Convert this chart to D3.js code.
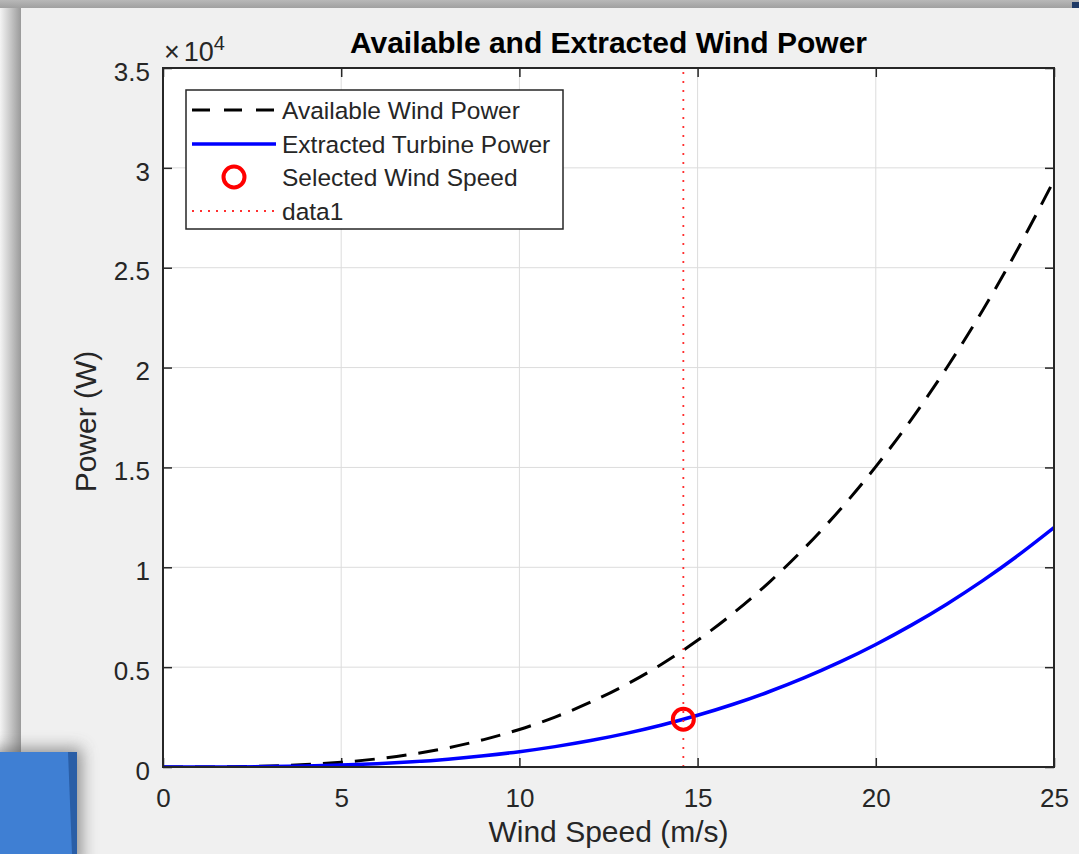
<!DOCTYPE html>
<html><head><meta charset="utf-8">
<script src="https://d3js.org/d3.v7.min.js"></script>
<style>html,body{margin:0;padding:0;background:#f0f0f0;overflow:hidden}</style>
</head><body>
<script>
// ---- data ----
const windSpeed = [0,1,2,3,4,5,6,7,8,9,10,11,12,13,14,15,16,17,18,19,20,21,22,23,24,25];
const availablePower = [0,2,15,51,120,235,406,645,963,1371,1880,2502,3249,4130,5159,6345,7700,9236,10964,12895,15040,17411,20018,22874,25989,29375];
const extractedPower = [0,1,6,21,49,96,166,263,393,559,767,1021,1325,1685,2105,2589,3142,3768,4473,5261,6136,7104,8167,9333,10604,11985];
const selectedSpeed = [14.6];
const selectedPower = [2390];
const xTicks = [0,5,10,15,20,25];
const yTicks = [0,5000,10000,15000,20000,25000,30000,35000];
const yTickLabels = ["0","0.5","1","1.5","2","2.5","3","3.5"];
const legendLabels = ["Available Wind Power","Extracted Turbine Power","Selected Wind Speed","data1"];
const titleText = "Available and Extracted Wind Power";
const xLabel = "Wind Speed (m/s)";
const yLabel = "Power (W)";

(function(){
const W = 1079, H = 854;
const svg = d3.select("body").append("svg").attr("width", W).attr("height", H)
  .style("font-family", "'Liberation Sans', Arial, Helvetica, sans-serif");
const defs = svg.append("defs");

// window chrome / background
const gl = defs.append("linearGradient").attr("id","gl").attr("x1",0).attr("x2",1).attr("y1",0).attr("y2",0);
gl.append("stop").attr("offset","0%").attr("stop-color","#f4f4f4");
gl.append("stop").attr("offset","100%").attr("stop-color","#9a9a9a");
const gt = defs.append("linearGradient").attr("id","gt").attr("x1",0).attr("x2",0).attr("y1",0).attr("y2",1);
gt.append("stop").attr("offset","0%").attr("stop-color","#b8b8b8");
gt.append("stop").attr("offset","100%").attr("stop-color","#a0a0a0");
const blur = defs.append("filter").attr("id","sh").attr("x","-50%").attr("y","-50%").attr("width","200%").attr("height","200%");
blur.append("feGaussianBlur").attr("stdDeviation",8);

svg.append("rect").attr("x",0).attr("y",0).attr("width",W).attr("height",H).attr("fill","#f0f0f0");
svg.append("rect").attr("x",0).attr("y",0).attr("width",21).attr("height",H).attr("fill","url(#gl)");
svg.append("rect").attr("x",0).attr("y",0).attr("width",W).attr("height",8).attr("fill","url(#gt)");
svg.append("rect").attr("x",21).attr("y",8).attr("width",W-21).attr("height",H-8).attr("fill","#f0f0f0");
svg.append("rect").attr("x",1072).attr("y",2).attr("width",7).attr("height",6).attr("fill","#1f3a66");
// blue item bottom-left
svg.append("rect").attr("x",-10).attr("y",748).attr("width",92).attr("height",120).attr("fill","#555").attr("opacity",0.6).attr("filter","url(#sh)");
svg.append("rect").attr("x",0).attr("y",752).attr("width",77).attr("height",102).attr("fill","#3f7fd3");
svg.append("path").attr("d","M68,752 L77,752 L77,854 L72,854 Z").attr("fill","#2a5ea6");

// ---- plot ----
const pL = 163, pR = 1054, pT = 68, pB = 767;
const x = d3.scaleLinear().domain([0,25]).range([pL,pR]);
const y = d3.scaleLinear().domain([0,35000]).range([pB,pT]);

svg.append("rect").attr("x",pL).attr("y",pT).attr("width",pR-pL).attr("height",pB-pT).attr("fill","#ffffff");

// grid
const grid = svg.append("g").attr("stroke","#dcdcdc").attr("stroke-width",1);
grid.selectAll("line.gx").data(xTicks.slice(1,-1)).join("line")
  .attr("x1",d=>x(d)).attr("x2",d=>x(d)).attr("y1",pT).attr("y2",pB);
grid.selectAll("line.gy").data(yTicks.slice(1,-1)).join("line")
  .attr("y1",d=>y(d)).attr("y2",d=>y(d)).attr("x1",pL).attr("x2",pR);

// axes using d3 axes (inward ticks)
const axCol = "#262626";
const tickFont = 26;
function styleAxis(g){ g.select(".domain").remove(); g.selectAll("line").attr("stroke",axCol).attr("stroke-width",1.5); g.selectAll("text").attr("fill","#262626").attr("font-size",tickFont).attr("font-family","'Liberation Sans', Arial, sans-serif"); }
const xb = svg.append("g").attr("transform",`translate(0,${pB})`)
  .call(d3.axisBottom(x).tickValues(xTicks).tickSize(-9).tickPadding(22).tickFormat(d3.format("d")));
styleAxis(xb);
xb.selectAll("text").attr("dy","0.71em");
const xt = svg.append("g").attr("transform",`translate(0,${pT})`)
  .call(d3.axisTop(x).tickValues(xTicks).tickSize(-9).tickFormat(""));
styleAxis(xt);
const yl = svg.append("g").attr("transform",`translate(${pL},0)`)
  .call(d3.axisLeft(y).tickValues(yTicks).tickSize(-9).tickPadding(13).tickFormat((d,i)=>yTickLabels[i]));
styleAxis(yl);
yl.selectAll("text").attr("dy","0.47em");
const yr = svg.append("g").attr("transform",`translate(${pR},0)`)
  .call(d3.axisRight(y).tickValues(yTicks).tickSize(-9).tickFormat(""));
styleAxis(yr);

// curves
defs.append("clipPath").attr("id","clip").append("rect")
  .attr("x",pL).attr("y",pT).attr("width",pR-pL).attr("height",pB-pT);
const line = (vals)=>d3.line().x((d,i)=>x(windSpeed[i])).y(d=>y(d)).curve(d3.curveNatural)(vals);
const plot = svg.append("g").attr("clip-path","url(#clip)");
plot.append("path").attr("d",line(availablePower)).attr("fill","none").attr("stroke","#000")
  .attr("stroke-width",3).attr("stroke-dasharray","20,12");
plot.append("path").attr("d",line(extractedPower)).attr("fill","none").attr("stroke","#0000ff")
  .attr("stroke-width",3.5);
plot.selectAll("line.vl").data(selectedSpeed).join("line")
  .attr("x1",d=>x(d)).attr("x2",d=>x(d)).attr("y1",pB).attr("y2",pT)
  .attr("stroke","#ff3030").attr("stroke-width",1.8).attr("stroke-dasharray","2,7");
plot.selectAll("circle.sel").data(selectedSpeed).join("circle")
  .attr("cx",d=>x(d)).attr("cy",(d,i)=>y(selectedPower[i])).attr("r",10.5)
  .attr("fill","none").attr("stroke","#ff0000").attr("stroke-width",4);

// box
svg.append("rect").attr("x",pL).attr("y",pT).attr("width",pR-pL).attr("height",pB-pT)
  .attr("fill","none").attr("stroke",axCol).attr("stroke-width",2);

// exponent label
const ex = svg.append("text").attr("x",164).attr("y",61).attr("fill","#262626").attr("font-size",27);
ex.append("tspan").text("\u00d7");
ex.append("tspan").text("10").attr("dx",4);
ex.append("tspan").text("4").attr("font-size",20).attr("dy",-11);

// title & labels
svg.append("text").attr("x",(pL+pR)/2).attr("y",53).attr("text-anchor","middle")
  .attr("font-size",30).attr("font-weight","bold").attr("fill","#000").text(titleText);
svg.append("text").attr("x",(pL+pR)/2).attr("y",842).attr("text-anchor","middle")
  .attr("font-size",30).attr("fill","#262626").text(xLabel);
svg.append("text").attr("transform",`translate(96,${(pT+pB)/2 + 4}) rotate(-90)`).attr("text-anchor","middle")
  .attr("font-size",30).attr("fill","#262626").text(yLabel);

// legend
const lg = svg.append("g");
lg.append("rect").attr("x",186).attr("y",90).attr("width",377).attr("height",139)
  .attr("fill","#fff").attr("stroke",axCol).attr("stroke-width",1.5);
const rows = [110,144,177,211];
lg.append("line").attr("x1",192).attr("x2",276).attr("y1",rows[0]).attr("y2",rows[0])
  .attr("stroke","#000").attr("stroke-width",3).attr("stroke-dasharray","18,14");
lg.append("line").attr("x1",192).attr("x2",276).attr("y1",rows[1]).attr("y2",rows[1])
  .attr("stroke","#0000ff").attr("stroke-width",3.5);
lg.append("circle").attr("cx",234).attr("cy",rows[2]).attr("r",10.5)
  .attr("fill","none").attr("stroke","#ff0000").attr("stroke-width",4);
lg.append("line").attr("x1",192).attr("x2",276).attr("y1",rows[3]).attr("y2",rows[3])
  .attr("stroke","#ff3030").attr("stroke-width",1.8).attr("stroke-dasharray","2,6");
lg.selectAll("text.lt").data(legendLabels).join("text")
  .attr("x",282).attr("y",(d,i)=>rows[i]+9).attr("font-size",24.5).attr("fill","#262626").text(d=>d);
})();
</script>
</body></html>
